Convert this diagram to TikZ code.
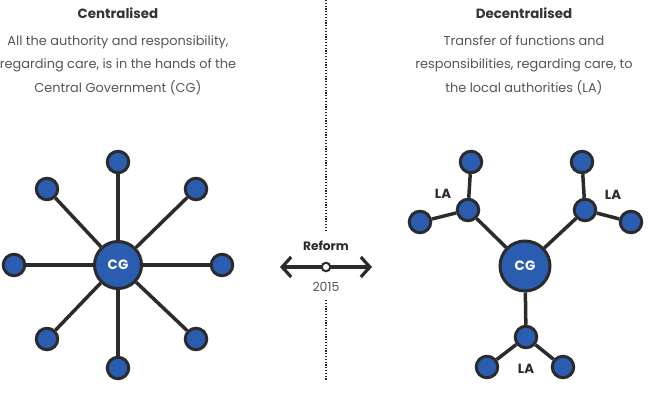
\documentclass[tikz,border=0pt]{standalone}
\usepackage{fontspec}
\setmainfont{Poppins}
\usetikzlibrary{arrows.meta}
\definecolor{nodeblue}{HTML}{2A5DB0}
\definecolor{edgedark}{HTML}{2B2B2B}
\definecolor{bodygray}{HTML}{555555}
\definecolor{titledark}{HTML}{333333}
\tikzset{
  big/.style={circle, draw=edgedark, line width=3pt, fill=nodeblue, minimum size=47pt, inner sep=0pt, text=white, font=\bfseries\fontsize{13.5}{15}\selectfont},
  small/.style={circle, draw=edgedark, line width=3pt, fill=nodeblue, minimum size=21.5pt, inner sep=0pt},
  edge/.style={draw=edgedark, line width=3.5pt},
  title/.style={text=titledark, font=\bfseries\fontsize{13.4}{15}\selectfont, anchor=base},
  body/.style={text=bodygray, font=\fontsize{12.9}{23.5}\selectfont, align=center, anchor=north},
  lab/.style={text=edgedark, font=\bfseries\fontsize{13.3}{15}\selectfont},
  divider/.style={draw=edgedark, line width=1.2pt, dash pattern=on 1.2pt off 1.6pt}
}
\begin{document}
\begin{tikzpicture}[x=1pt,y=-1pt]
\useasboundingbox (0,0) rectangle (648,402);
% texts
\node[title] (t1) at (118,18) {Centralised};
\node[body] (b1) at (118,32) {All the authority and responsibility,\\regarding care, is in the hands of the\\Central Government (CG)};
\node[title] (t2) at (524,18) {Decentralised};
\node[body] (b2) at (524,32) {Transfer of functions and\\responsibilities, regarding care, to\\the local authorities (LA)};
% divider
\coordinate (d1) at (326,0);
\coordinate (d2) at (326,232);
\coordinate (d3) at (326,300);
\coordinate (d4) at (326,380);
\draw[divider] (d1) -- (d2);
\draw[divider] (d3) -- (d4);
% reform arrow
\coordinate (al) at (280,267);
\coordinate (ar) at (372,267);
\draw[edgedark, line width=3.2pt, {Straight Barb[length=9pt,width=20pt,line width=3.2pt]}-{Straight Barb[length=9pt,width=20pt,line width=3.2pt]}] (al) -- (ar);
\node[circle, draw=edgedark, fill=white, line width=2pt, minimum size=8.5pt, inner sep=0pt] (rc) at (326,267) {};
\node[lab, font=\bfseries\fontsize{12.2}{14}\selectfont] (rf) at (326,246) {Reform};
\node[text=bodygray, font=\fontsize{12.5}{14}\selectfont] (yr) at (326,287) {2015};
% left graph
\node[big] (cg1) at (118,265) {CG};
\node[small] (n1) at (118,162) {};
\node[small] (n2) at (47,189) {};
\node[small] (n3) at (196,189) {};
\node[small] (n4) at (14,265) {};
\node[small] (n5) at (222,265) {};
\node[small] (n6) at (47,339) {};
\node[small] (n7) at (196,339) {};
\node[small] (n8) at (118,368) {};
\foreach \n in {n1,n2,n3,n4,n5,n6,n7,n8} {\draw[edge] (cg1) -- (\n);}
% right graph
\node[big, minimum size=50pt] (cg2) at (525,266) {CG};
\node[small] (la1) at (468,210) {};
\node[small] (la2) at (585,210) {};
\node[small] (la3) at (526,337) {};
\node[small] (l11) at (471,162) {};
\node[small] (l12) at (420,222) {};
\node[small] (l21) at (582,162) {};
\node[small] (l22) at (631,222) {};
\node[small] (l31) at (487,367) {};
\node[small] (l32) at (563,367) {};
\draw[edge] (cg2) -- (la1);
\draw[edge] (cg2) -- (la2);
\draw[edge] (cg2) -- (la3);
\draw[edge] (la1) -- (l11);
\draw[edge] (la1) -- (l12);
\draw[edge] (la2) -- (l21);
\draw[edge] (la2) -- (l22);
\draw[edge] (la3) -- (l31);
\draw[edge] (la3) -- (l32);
\node[lab] (lb1) at (443,194) {LA};
\node[lab] (lb2) at (613,195) {LA};
\node[lab] (lb3) at (526,369) {LA};
\end{tikzpicture}
\end{document}
